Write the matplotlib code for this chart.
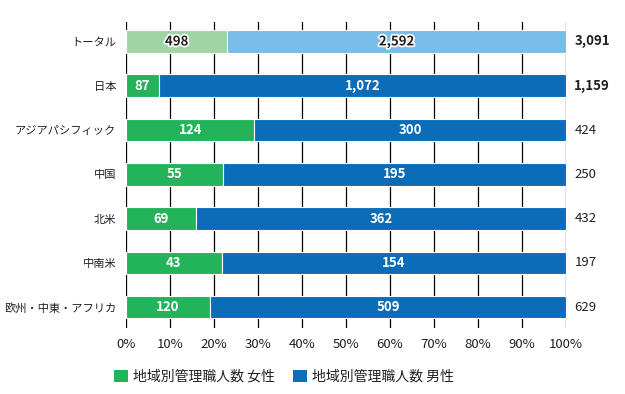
import numpy as np
import matplotlib
matplotlib.use('Agg')
import matplotlib.pyplot as plt
import matplotlib.patheffects as pe
from matplotlib.patches import Patch

plt.rcParams['font.family'] = ['Noto Sans CJK JP', 'DejaVu Sans']

# data
regions = ['トータル', '日本', 'アジアパシフィック', '中国', '北米', '中南米', '欧州・中東・アフリカ']
female = ['498', '87', '124', '55', '69', '43', '120']
male = ['2,592', '1,072', '300', '195', '362', '154', '509']
totals = ['3,091', '1,159', '424', '250', '432', '197', '629']
# share of female managers as drawn in the bars (%)
female_share = [23.0, 7.5, 29.2, 22.0, 16.0, 21.8, 19.1]
bold_total = [True, True, False, False, False, False, False]
legend_labels = ['地域別管理職人数 女性', '地域別管理職人数 男性']

green = '#22b35b'
blue = '#0b6db7'
light_green = '#a1d4a5'
light_blue = '#78bde8'
text_col = '#231f20'

fig = plt.figure(figsize=(6.25, 3.94), dpi=100)
ax = fig.add_axes([126 / 625, 1 - 328 / 394, 440 / 625, 306 / 394])

y = np.arange(len(regions))
f = np.array(female_share)
m = 100 - f
fcols = [light_green] + [green] * (len(regions) - 1)
mcols = [light_blue] + [blue] * (len(regions) - 1)

ax.barh(y, f, height=0.51, color=fcols, edgecolor='white', linewidth=0.8, zorder=3)
ax.barh(y, m, left=f, height=0.51, color=mcols, edgecolor='white', linewidth=0.8, zorder=3)

# vertical grid lines
for xv in range(0, 101, 10):
    ax.axvline(xv, color='black', lw=0.9, zorder=1)

for i in range(len(regions)):
    if i == 0:
        kw = dict(color=text_col, path_effects=[pe.withStroke(linewidth=2.5, foreground='white')])
    else:
        kw = dict(color='white')
    ax.text(f[i] / 2, i, female[i], ha='center', va='center', fontsize=9.5,
            fontweight='bold', zorder=5, **kw)
    ax.text(f[i] + m[i] / 2, i, male[i], ha='center', va='center', fontsize=9.5,
            fontweight='bold', zorder=5, **kw)
    ax.annotate(totals[i], (100, i), xytext=(6, 0), textcoords='offset points',
                ha='left', va='center', fontsize=9.5, color=text_col,
                fontweight='bold' if bold_total[i] else 'normal', annotation_clip=False)

ax.set_xlim(0, 100)
ax.set_ylim(len(regions) - 0.53, -0.44)
ax.set_yticks(y)
ax.set_yticklabels(regions, fontsize=8.1, color=text_col)
ax.set_xticks(range(0, 101, 10))
ax.set_xticklabels(['{}%'.format(v) for v in range(0, 101, 10)], fontsize=9.5, color=text_col)
ax.tick_params(axis='both', length=0)
ax.tick_params(axis='y', pad=7)
ax.tick_params(axis='x', pad=7)
for s in ax.spines.values():
    s.set_visible(False)

handles = [Patch(facecolor=green), Patch(facecolor=blue)]
fig.legend(handles, legend_labels, loc='center', bbox_to_anchor=(284 / 625, 1 - 377 / 394),
           ncol=2, frameon=False, fontsize=10, handlelength=1.0, handleheight=1.0,
           handletextpad=0.4, columnspacing=1.3, labelcolor=text_col)

fig.savefig('out.png', dpi=100)
